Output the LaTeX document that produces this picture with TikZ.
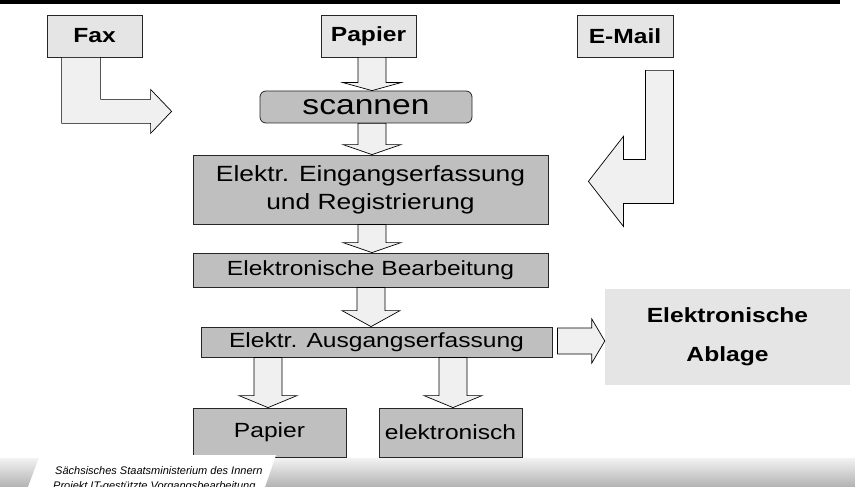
\documentclass[tikz,border=0pt]{standalone}
\usepackage{fontspec}
\setmainfont{Liberation Sans}[FakeStretch=1.2]
\newfontfamily\footfont{Liberation Sans}
\usetikzlibrary{calc}

% block arrow pointing down: centre x, from node, to node, head length
\newcommand{\blockdown}[4]{%
  \draw[blockarrow] let \p1=(#2.south), \p2=(#3.north), \p3=(#1,0) in
    (\x3-14pt,\y1) -- (\x3-14pt,\y2+#4pt) -- (\x3-29pt,\y2+#4pt) -- (\x3,\y2)
    -- (\x3+29pt,\y2+#4pt) -- (\x3+14pt,\y2+#4pt) -- (\x3+14pt,\y1) -- cycle;}
% block arrow pointing right: from node, to node, centre y
\newcommand{\blockright}[3]{%
  \draw[blockarrow] let \p1=(#1.east), \p2=(#2.west), \p3=(0,#3) in
    (\x1+5pt,\y3+13pt) -- (\x2-13pt,\y3+13pt) -- (\x2-13pt,\y3+22pt) -- (\x2,\y3)
    -- (\x2-13pt,\y3-22pt) -- (\x2-13pt,\y3-13pt) -- (\x1+5pt,\y3-13pt) -- cycle;}

\begin{document}
\begin{tikzpicture}[x=1pt,y=-1pt,
	blockarrow/.style={draw=black, line width=0.7pt, fill=gray!12, line join=miter},
	srcbox/.style={draw=black!85, line width=0.8pt, fill=gray!20, inner sep=0pt,
		minimum height=42pt, font=\bfseries\fontsize{20.5}{24}\selectfont},
	stepbox/.style={draw=black!85, line width=0.8pt, fill=gray!50, inner sep=0pt,
		align=center, font=\fontsize{20.5}{28}\selectfont}]
	%the frame
	\useasboundingbox (0,0) rectangle (855,487);
	\clip (0,0) rectangle (855,487);
	\fill[black] (0,0) rectangle (840,4);
	%incoming channels
	\node[srcbox, minimum width=95pt] (fax) at (94.5,36) {Fax};
	\node[srcbox, minimum width=95pt] (papierin) at (368.5,36) {Papier};
	\node[srcbox, minimum width=96pt] (email) at (625,36) {E-Mail};
	%the processing steps
	\node[stepbox, rounded corners=6pt, minimum width=212pt, minimum height=32pt,
		font=\fontsize{28}{32}\selectfont] (scannen) at (366,107) {scannen};
	\node[stepbox, minimum width=355pt, minimum height=69pt, font=\fontsize{22}{28}\selectfont]
		(eingang) at (370.5,189.5) {Elektr. Eingangserfassung\\und Registrierung};
	\node[stepbox, minimum width=355pt, minimum height=34pt] (bearb) at (370.5,270) {Elektronische Bearbeitung};
	\node[stepbox, minimum width=351pt, minimum height=30pt] (ausgang) at (376.5,342) {Elektr. Ausgangserfassung};
	\node[stepbox, minimum width=153pt, minimum height=49pt] (papierout) at (269.5,432.5) {Papier};
	\node[stepbox, minimum width=143pt, minimum height=49pt] (elektr) at (450.5,432.5) {elektronisch};
	\node[fill=gray!20, minimum width=245pt, minimum height=96pt, inner sep=0pt, align=center,
		font=\bfseries\fontsize{20.5}{39}\selectfont] (ablage) at (727.5,337) {Elektronische\\Ablage};
	%the block arrows
	\draw[blockarrow] (fax.south west) ++(15,0) -- ++(0,66) -- ++(89,0) -- ++(0,10)
		-- ++(21,-22) -- ++(-21,-22) -- ++(0,10) -- ++(-50,0) -- ++(0,-42) -- cycle;
	\draw[blockarrow] (email.south east) ++(0,13) -- ++(0,133) -- ++(-50,0) -- ++(0,23)
		-- ++(-35,-45) -- ++(35,-45) -- ++(0,23) -- ++(22,0) -- ++(0,-89) -- cycle;
	\blockdown{372}{papierin}{scannen}{8}
	\blockdown{372}{scannen}{eingang}{10}
	\blockdown{372}{eingang}{bearb}{10}
	\blockdown{371}{bearb}{ausgang}{16}
	\blockdown{268}{ausgang}{papierout}{12}
	\blockdown{453}{ausgang}{elektr}{12}
	\blockright{ausgang}{ablage}{341}
	%footer
	\shade[top color=gray!10, bottom color=gray!60] (0,458) rectangle (855,487);
	\fill[white] (40,455) -- (276,455) -- (265,487) -- (28,487) -- cycle;
	\node[anchor=base west, inner sep=0pt, font=\footfont\itshape\fontsize{11}{13}\selectfont]
		(ministerium) at (55,474) {Sächsisches Staatsministerium des Innern};
	\node[anchor=base west, inner sep=0pt, font=\footfont\itshape\fontsize{11}{13}\selectfont]
		(projekt) at (53,489) {Projekt IT-gestützte Vorgangsbearbeitung};
\end{tikzpicture}
\end{document}
